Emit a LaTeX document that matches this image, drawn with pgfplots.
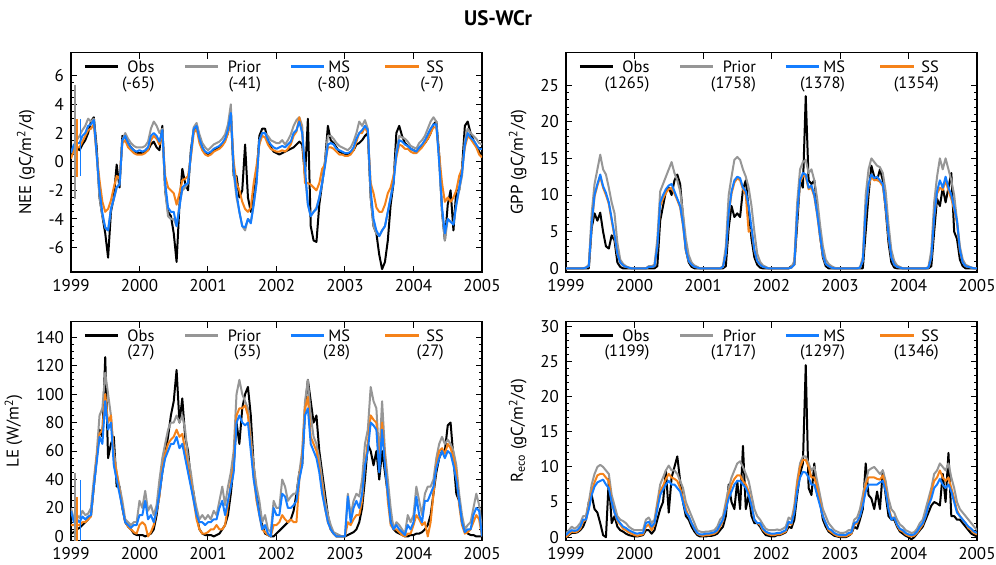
\documentclass[border=0pt]{standalone}
\usepackage{fontspec}
\setmainfont{PT Sans}
\usepackage{pgfplots}
\usepackage{pgfplotstable}
\pgfplotsset{compat=1.18}

\definecolor{obsc}{RGB}{0,0,0}
\definecolor{priorc}{RGB}{150,150,150}
\definecolor{msc}{RGB}{20,125,255}
\definecolor{ssc}{RGB}{245,130,25}

\newcommand{\fs}{\fontsize{8.5}{10}\selectfont}
\newcommand{\lfs}{\fontsize{8.2}{9.5}\selectfont}

% k = half-month index from Jan 1999
\pgfplotstableread{
k obs prior ms ss
0 0.5 0.7 0.6 0.2
1 0.8 1.0 1.2 0.8
2 1.0 1.5 1.3 1.0
3 0.8 1.8 1.3 1.0
4 1.2 2.2 1.8 1.4
5 1.5 2.5 2.0 1.8
6 2.0 3.0 2.5 2.2
7 2.8 2.8 2.6 2.3
8 3.1 3.0 2.9 2.6
9 1.0 0.5 0.5 0.5
10 -2.5 -2.5 -2.0 -1.3
11 -3.8 -3.8 -3.6 -2.8
12 -5.0 -4.6 -4.6 -3.5
13 -6.7 -4.8 -4.8 -3.3
14 -3.5 -3.3 -3.3 -2.7
15 -2.5 -2.6 -2.6 -1.8
16 -0.2 -1.8 -1.8 -1.0
17 -1.8 -1.5 -1.6 -1.2
18 1.8 1.5 1.5 1.3
19 1.7 2.0 1.8 1.5
20 1.3 1.6 1.3 1.0
21 1.0 1.3 1.0 0.8
22 0.8 1.1 0.8 0.6
23 0.6 1.0 0.7 0.5
24 0.6 1.0 0.8 0.5
25 0.6 1.0 0.7 0.5
26 0.7 1.1 0.8 0.6
27 0.8 1.4 1.0 0.8
28 1.2 2.3 1.8 1.5
29 1.4 2.8 2.0 1.8
30 1.0 2.5 1.8 1.6
31 0.8 2.0 1.4 1.2
32 2.5 2.3 2.2 2.0
33 -2.0 -2.0 -1.5 -1.0
34 -3.5 -3.8 -3.2 -1.8
35 -3.8 -4.0 -3.5 -2.0
36 -5.0 -4.0 -3.5 -2.2
37 -7.0 -4.5 -4.5 -3.0
38 -3.0 -3.0 -3.2 -2.2
39 -0.5 -2.0 -1.8 -1.3
40 -1.5 -1.8 -1.6 -1.2
41 -2.0 -1.5 -1.5 -1.0
42 0.8 0.5 0.5 0.3
43 2.2 2.4 2.3 2.0
44 2.6 2.7 2.5 2.3
45 1.7 1.9 1.6 1.3
46 1.0 1.3 1.0 0.8
47 0.6 1.0 0.7 0.5
48 0.5 0.8 0.6 0.4
49 0.6 1.0 0.7 0.5
50 0.8 1.2 0.9 0.7
51 0.9 1.3 1.0 0.8
52 1.0 1.4 1.1 0.9
53 1.2 1.6 1.3 1.1
54 1.5 1.9 1.6 1.4
55 2.0 2.6 2.2 2.0
56 3.5 4.0 3.4 3.2
57 -1.0 -0.8 -0.5 0.0
58 -1.0 -2.5 -2.2 -1.5
59 -2.5 -3.5 -3.5 -2.0
60 -2.0 -4.5 -4.5 -2.8
61 1.2 -4.8 -4.6 -3.3
62 -2.5 -4.0 -4.0 -3.5
63 -3.5 -4.2 -4.3 -3.2
64 -2.5 -3.0 -3.0 -1.5
65 -1.0 -1.5 -1.5 -0.3
66 1.8 1.5 1.5 1.2
67 2.3 2.0 2.0 1.8
68 2.3 2.0 2.0 1.7
69 1.5 1.8 1.5 1.2
70 1.0 1.5 1.2 0.9
71 0.7 1.4 1.0 0.8
72 0.6 1.3 0.9 0.7
73 0.5 1.3 1.0 0.7
74 0.6 1.5 1.1 0.8
75 0.7 1.2 1.0 0.7
76 0.8 1.5 1.2 0.9
77 0.9 1.9 1.4 1.2
78 1.0 2.5 2.0 1.8
79 1.2 2.9 2.2 2.1
80 1.4 3.1 2.8 3.1
81 1.2 2.5 2.0 2.0
82 -1.0 -1.0 -0.5 -1.5
83 3.0 -3.0 -3.0 -1.5
84 -4.5 -3.8 -3.8 -1.6
85 -5.5 -3.5 -3.5 -1.8
86 -5.6 -3.2 -3.3 -2.0
87 -3.0 -2.5 -2.5 -1.5
88 -1.5 -1.5 -1.5 -0.5
89 0.0 0.0 -0.3 -0.2
90 2.5 1.8 1.2 1.0
91 1.5 1.8 1.3 1.0
92 1.3 1.6 1.2 0.9
93 1.0 1.3 0.9 0.7
94 0.7 1.1 0.8 0.5
95 0.6 1.0 0.7 0.5
96 0.5 0.9 0.6 0.4
97 0.5 0.8 0.6 0.4
98 0.6 1.0 0.7 0.5
99 0.8 1.4 1.0 0.8
100 1.2 2.0 1.6 1.4
101 1.3 2.8 2.0 2.0
102 1.5 2.5 2.2 2.0
103 1.8 2.9 2.5 2.4
104 2.0 2.3 2.2 2.0
105 -2.5 -2.5 -2.0 -1.5
106 -4.5 -4.5 -4.0 -2.2
107 -5.0 -5.0 -4.8 -3.2
108 -6.5 -5.2 -5.2 -3.5
109 -7.5 -4.8 -4.8 -3.5
110 -7.0 -4.5 -4.5 -3.0
111 -5.5 -3.5 -3.5 -2.2
112 -3.0 -2.5 -2.5 -1.8
113 -1.5 -1.3 -1.5 -1.0
114 2.0 0.8 0.5 0.3
115 2.5 1.8 1.5 1.2
116 1.8 1.7 1.4 1.1
117 1.3 1.6 1.2 0.9
118 1.1 1.4 1.1 0.9
119 0.9 1.1 0.9 0.7
120 0.8 1.0 0.8 0.6
121 0.7 0.9 0.7 0.6
122 0.9 1.3 1.0 0.8
123 1.1 1.5 1.2 1.0
124 1.3 1.8 1.5 1.3
125 1.6 2.3 1.9 1.6
126 2.0 2.8 2.3 2.0
127 2.6 3.1 2.6 2.4
128 2.8 2.8 2.6 2.4
129 0.5 0.0 0.0 0.5
130 -3.5 -3.5 -3.2 -1.5
131 -5.5 -5.5 -5.0 -2.8
132 -3.0 -4.0 -4.0 -2.5
133 -2.0 -4.2 -4.2 -2.8
134 -4.8 -4.3 -4.4 -2.5
135 -2.0 -3.0 -3.0 -2.0
136 -2.0 -2.0 -1.8 -1.0
137 -0.5 -1.0 -0.8 -0.5
138 2.5 1.5 1.2 1.0
139 2.8 2.3 2.0 1.8
140 2.0 2.0 1.7 1.6
141 1.5 1.8 1.5 1.3
142 1.1 1.6 1.2 1.0
143 0.7 1.3 0.9 0.5
144 0.4 1.2 0.9 0.3
}\neetab

\pgfplotstableread{
k obs prior ms ss
0 0 0 0 0
1 0 0 0 0
2 0 0 0 0
3 0 0 0 0
4 0 0 0 0
5 0 0 0 0
6 0 0 0 0
7 0 0.1 0.1 0.1
8 0 0.5 0.3 0.3
9 5.5 7.5 6.0 6.0
10 7.5 11.5 10.0 9.8
11 6.5 13.5 11.5 11.3
12 7.6 15.5 12.8 12.5
13 5.0 13.5 11.2 11.0
14 3.0 12.8 10.3 10.0
15 2.7 11.0 9.0 8.8
16 4.5 9.0 6.8 6.5
17 3.8 7.5 4.5 4.3
18 0.8 3.5 2.0 1.9
19 0.2 1.2 0.8 0.8
20 0 0.6 0.4 0.4
21 0 0.3 0.2 0.2
22 0 0.1 0.1 0.1
23 0 0 0 0
24 0 0 0 0
25 0 0 0 0
26 0 0 0 0
27 0 0 0 0
28 0 0 0 0
29 0 0.3 0.2 0.2
30 0 0.3 0.2 0.2
31 0 0.5 0.3 0.3
32 0.3 4.0 3.0 3.0
33 6.5 10.5 9.0 8.5
34 8.5 11.5 10.0 9.5
35 10.5 12.5 10.8 10.3
36 11.0 13.5 11.3 10.8
37 10.0 14.5 11.5 11.0
38 12.0 13.0 10.5 10.2
39 12.8 12.0 9.5 9.3
40 11.5 10.5 8.5 8.3
41 7.0 7.5 6.0 5.8
42 2.5 4.0 2.5 2.4
43 0.8 1.8 1.0 1.0
44 0.2 0.8 0.5 0.5
45 0 0.4 0.2 0.2
46 0 0.2 0.1 0.1
47 0 0 0 0
48 0 0 0 0
49 0 0 0 0
50 0 0 0 0
51 0 0 0 0
52 0 0 0 0
53 0 0 0 0
54 0 0 0 0
55 0 0.3 0.2 0.2
56 0.3 3.0 2.0 2.0
57 5.5 10.0 7.5 7.3
58 8.5 12.5 10.5 10.2
59 7.0 14.8 12.0 11.7
60 7.5 15.2 12.5 12.3
61 7.0 14.8 12.3 12.0
62 10.8 13.5 11.0 10.8
63 12.0 12.5 10.5 10.0
64 8.0 11.0 8.5 5.0
65 4.0 8.5 5.5 5.3
66 1.5 5.0 2.5 2.4
67 0.5 2.0 1.0 1.0
68 0.1 0.9 0.5 0.5
69 0 0.4 0.2 0.2
70 0 0.2 0.1 0.1
71 0 0 0 0
72 0 0 0 0
73 0 0 0 0
74 0 0 0 0
75 0 0 0 0
76 0 0 0 0
77 0 0 0 0
78 0 0 0 0
79 0.3 0.2 0.1 0.1
80 0.5 1.0 0.5 0.5
81 6.0 9.0 7.5 7.3
82 12.0 13.5 12.0 11.7
83 11.0 14.5 13.0 12.6
84 23.5 14.8 12.8 12.5
85 12.0 13.0 11.0 10.8
86 11.5 13.5 11.3 11.0
87 12.0 12.0 10.0 9.8
88 8.5 9.5 7.5 7.3
89 4.5 6.0 4.5 4.3
90 1.5 3.0 1.8 1.7
91 0.3 1.2 0.6 0.6
92 0 0.6 0.3 0.3
93 0 0.3 0.1 0.1
94 0 0.1 0 0
95 0 0 0 0
96 0 0 0 0
97 0 0 0 0
98 0 0 0 0
99 0 0 0 0
100 0 0 0 0
101 0 0 0 0
102 0 0 0 0
103 0 0.1 0.1 0.1
104 0 1.5 1.0 1.0
105 5.0 10.0 8.0 7.8
106 10.0 13.5 11.5 11.2
107 14.0 15.0 12.8 12.5
108 12.5 14.5 12.3 12.0
109 12.0 14.0 12.5 12.1
110 13.5 13.8 12.0 11.8
111 12.0 13.0 11.5 11.2
112 8.0 10.5 8.5 8.3
113 3.5 6.0 4.5 4.3
114 0.8 2.5 1.5 1.5
115 0.1 1.0 0.5 0.5
116 0 0.4 0.2 0.2
117 0 0.2 0.1 0.1
118 0 0 0 0
119 0 0 0 0
120 0 0 0 0
121 0 0 0 0
122 0 0 0 0
123 0 0 0 0
124 0 0 0 0
125 0 0 0 0
126 0 0 0 0
127 0 0.2 0.1 0.1
128 0.3 2.5 1.5 1.5
129 5.0 9.0 7.0 7.0
130 9.5 12.5 10.5 10.2
131 8.5 15.0 12.0 11.0
132 11.0 13.5 11.0 10.7
133 9.0 15.0 12.5 12.0
134 11.0 13.5 11.0 10.6
135 13.0 12.0 10.0 9.5
136 5.0 10.0 8.3 8.0
137 4.0 6.5 6.5 6.2
138 1.2 3.0 2.5 2.4
139 0.3 1.2 0.8 0.8
140 0 0.5 0.3 0.3
141 0 0.3 0.2 0.2
142 0 0.1 0.1 0.1
143 0 0 0 0
144 0 0 0 0
}\gpptab

\pgfplotstableread{
k obs prior ms ss
0 2 20 18 8
1 3 12 10 8
2 5 15 12 8
3 6 13 10 8
4 8 18 14 10
5 10 15 12 10
6 12 16 14 12
7 15 20 15 14
8 35 40 35 35
9 55 58 52 55
10 75 85 70 72
11 70 90 65 75
12 126 115 95 100
13 55 100 75 80
14 65 85 80 85
15 70 60 50 55
16 35 45 40 45
17 35 35 30 32
18 20 25 20 20
19 10 12 10 10
20 7 10 8 7
21 5 8 6 5
22 2 10 8 3
23 1 10 8 2
24 1 25 15 8
25 1 20 15 10
26 0 32 25 8
27 1 18 12 0
28 2 22 15 3
29 5 15 10 8
30 15 22 18 18
31 30 40 30 28
32 45 55 45 48
33 58 65 55 58
34 70 75 60 65
35 85 80 65 68
36 95 80 65 70
37 117 85 70 75
38 80 80 62 70
39 97 85 65 72
40 70 75 55 60
41 60 55 45 48
42 40 45 35 38
43 30 30 25 25
44 15 20 15 12
45 5 12 10 5
46 2 15 10 2
47 1 12 8 2
48 1 15 10 3
49 1 12 10 5
50 0 18 12 5
51 1 15 12 8
52 2 25 20 5
53 5 35 25 5
54 8 22 15 8
55 15 35 25 22
56 30 45 35 38
57 50 60 45 50
58 80 100 80 85
59 65 110 85 90
60 90 100 80 90
61 100 95 78 92
62 105 90 80 85
63 85 70 60 65
64 50 50 40 42
65 30 35 28 25
66 20 25 15 15
67 8 10 5 5
68 2 15 8 3
69 1 5 2 1
70 0 3 0 0
71 0 25 20 8
72 2 20 15 8
73 4 20 15 10
74 6 40 30 15
75 8 35 28 12
76 10 25 20 10
77 12 28 20 12
78 18 30 22 10
79 30 30 25 10
80 45 45 40 40
81 50 60 50 55
82 90 95 85 90
83 110 110 90 98
84 95 85 65 70
85 80 70 60 65
86 85 65 55 60
87 60 55 45 48
88 45 40 30 35
89 30 25 20 20
90 15 15 10 10
91 5 8 5 5
92 2 3 2 2
93 0 2 0 0
94 0 1 0 0
95 0 0 0 0
96 0 0 0 0
97 1 30 28 10
98 2 15 10 8
99 3 25 20 12
100 5 30 25 15
101 10 28 20 15
102 20 40 30 25
103 40 65 50 50
104 65 75 60 65
105 60 105 80 85
106 50 95 78 82
107 60 90 75 80
108 40 55 45 50
109 60 95 75 80
110 45 60 50 55
111 30 40 30 25
112 15 20 10 8
113 5 5 5 5
114 3 10 8 5
115 2 8 5 3
116 1 5 3 1
117 0 2 1 0
118 0 15 8 2
119 1 10 5 2
120 1 15 10 8
121 2 35 28 15
122 2 25 15 12
123 3 15 10 8
124 5 30 25 10
125 8 35 25 0
126 15 35 30 10
127 30 40 35 30
128 45 55 48 50
129 55 65 55 60
130 60 70 60 62
131 60 65 55 58
132 78 68 60 65
133 80 65 58 62
134 55 60 50 55
135 30 50 40 45
136 25 30 25 22
137 10 15 10 8
138 5 5 3 2
139 2 8 5 3
140 1 10 5 5
141 1 20 15 10
142 0 30 20 15
143 0 22 18 12
144 0 5 0 0
}\letab

\pgfplotstableread{
k obs prior ms ss
0 0.0 0.5 0.3 0.0
1 0.3 1.0 0.7 0.4
2 0.6 1.5 1.0 0.8
3 0.6 1.2 0.9 0.7
4 0.7 1.5 1.0 0.8
5 1.0 2.0 1.5 1.2
6 1.5 3.0 2.5 2.2
7 2.5 3.0 2.5 2.5
8 5.0 5.0 4.0 4.2
9 6.0 7.5 6.0 6.5
10 4.0 9.0 7.2 7.8
11 3.5 10.0 7.8 8.8
12 2.0 10.3 8.0 9.0
13 0.3 10.0 8.2 9.0
14 0.0 9.5 7.5 8.5
15 8.3 9.0 7.0 8.0
16 2.0 6.0 5.0 5.0
17 3.0 4.5 3.5 3.5
18 1.5 3.0 2.5 2.3
19 1.0 2.5 2.0 1.8
20 0.8 2.3 1.5 1.2
21 0.5 2.0 1.3 1.0
22 0.3 1.5 1.0 0.7
23 0.2 1.2 0.8 0.5
24 0.1 1.0 0.6 0.3
25 0.1 1.0 0.5 0.2
26 0.2 1.0 0.6 0.3
27 0.3 1.0 0.6 0.4
28 1.0 2.5 2.0 1.5
29 1.0 2.8 2.2 1.8
30 0.5 2.0 1.5 1.0
31 1.0 2.5 2.0 1.8
32 2.5 5.0 4.0 4.5
33 4.0 7.5 6.0 6.5
34 5.0 8.5 6.8 7.3
35 9.5 9.5 7.5 8.3
36 3.5 10.2 8.0 9.0
37 8.5 9.5 7.5 8.5
38 10.0 9.5 7.5 8.3
39 11.5 9.0 7.0 8.0
40 8.0 8.0 6.5 7.0
41 5.0 7.0 5.0 5.5
42 3.0 5.0 3.5 4.0
43 2.5 4.0 3.0 3.0
44 1.5 3.0 2.0 2.0
45 0.8 2.0 1.2 1.2
46 0.3 1.0 0.6 0.5
47 0.1 0.8 0.4 0.3
48 0.1 0.7 0.4 0.2
49 0.1 0.8 0.5 0.3
50 0.2 0.8 0.5 0.3
51 0.2 0.9 0.6 0.4
52 0.3 1.0 0.7 0.5
53 0.5 1.5 1.0 0.8
54 1.0 2.5 1.8 1.5
55 1.5 3.0 2.5 2.3
56 3.0 5.0 4.0 4.3
57 7.5 7.0 5.5 6.0
58 5.0 8.5 6.5 7.5
59 4.0 9.5 7.5 8.3
60 8.0 10.5 8.0 8.8
61 4.0 10.8 8.0 8.8
62 13.0 10.0 7.5 8.0
63 4.0 9.0 7.0 7.5
64 6.0 8.0 6.0 6.5
65 3.0 6.0 4.5 4.5
66 2.0 4.0 2.5 2.5
67 2.0 3.0 2.0 2.0
68 1.5 2.5 2.0 1.8
69 0.8 1.8 1.2 1.0
70 0.3 1.2 0.8 0.6
71 0.2 1.0 0.6 0.4
72 0.1 1.0 0.5 0.3
73 0.1 1.0 0.5 0.3
74 0.3 1.1 0.6 0.4
75 0.3 1.0 0.6 0.4
76 0.5 1.2 0.8 0.6
77 0.7 1.5 1.0 0.8
78 1.5 2.8 2.2 2.0
79 1.3 2.5 2.0 1.8
80 2.5 4.5 3.5 4.0
81 6.0 8.0 6.5 7.5
82 9.0 10.5 8.5 10.0
83 10.5 11.5 9.3 11.0
84 24.5 11.5 9.2 11.0
85 7.0 10.5 8.5 10.0
86 6.0 9.5 7.5 8.5
87 10.5 10.0 7.5 8.5
88 6.0 8.0 6.0 7.0
89 5.0 6.0 4.5 5.0
90 2.5 4.0 3.0 3.0
91 1.5 3.0 2.0 2.0
92 0.8 2.0 1.2 1.0
93 0.5 1.5 1.0 0.7
94 0.2 1.0 0.6 0.4
95 0.1 0.8 0.4 0.2
96 0.0 0.6 0.3 0.1
97 0.0 0.6 0.3 0.1
98 0.0 0.7 0.3 0.1
99 0.2 1.0 0.6 0.3
100 0.5 1.0 0.7 0.5
101 1.5 2.5 2.0 1.8
102 1.2 2.8 2.2 2.0
103 2.5 4.0 3.0 3.0
104 4.0 6.0 4.5 5.0
105 10.5 8.0 6.5 7.5
106 6.0 9.5 7.5 8.5
107 5.5 9.8 7.5 8.5
108 4.0 10.0 7.5 8.5
109 6.5 9.5 7.5 8.3
110 4.0 9.0 7.8 8.2
111 9.5 9.5 8.0 8.8
112 6.0 8.0 6.5 7.0
113 3.0 5.5 4.0 4.3
114 2.5 4.0 2.5 2.8
115 2.5 3.5 2.8 2.8
116 1.5 2.5 1.8 1.7
117 0.8 1.8 1.2 1.0
118 0.5 1.5 1.0 0.8
119 0.2 1.0 0.6 0.4
120 0.0 0.8 0.4 0.2
121 -0.3 0.6 0.3 0.1
122 0.0 0.7 0.4 0.2
123 0.5 1.2 0.8 0.6
124 1.0 2.0 1.5 1.2
125 1.5 2.5 2.0 1.8
126 2.5 4.0 3.0 3.0
127 3.5 5.5 4.5 4.5
128 4.5 7.0 5.5 6.5
129 5.0 9.0 7.0 8.0
130 4.8 9.5 7.5 8.5
131 4.5 10.5 8.3 9.5
132 9.0 10.0 7.5 8.5
133 5.0 9.5 7.0 8.0
134 12.0 10.5 7.5 8.5
135 3.0 8.5 6.5 7.0
136 3.0 7.0 5.0 5.5
137 2.5 5.0 3.5 3.8
138 2.5 4.0 3.0 3.0
139 2.0 3.5 2.5 2.5
140 1.5 3.0 2.0 2.0
141 1.0 2.5 1.5 1.3
142 0.5 2.0 1.2 1.0
143 0.3 1.5 0.8 0.6
144 0.1 1.0 0.6 0.4
}\recotab

\pgfplotsset{
  panel/.style={
    scale only axis, width=205.5pt, height=109.6pt,
    xmin=1999, xmax=2005, xtick={1999,2000,...,2005},
    minor x tick num=11,
    xticklabel style={/pgf/number format/1000 sep={}},
    tick label style={font=\fs},
    ylabel style={font=\fs},
    /pgf/number format/assume math mode=true,
    major tick length=3pt, minor tick length=1.6pt,
    axis line style={line width=0.6pt},
    every tick/.style={black, line width=0.5pt},
    every axis plot/.append style={line width=1pt, line join=round, mark=none},
  },
}

\newcommand{\series}[1]{%
  \addplot[obsc] table[x expr=1999+\thisrow{k}/24, y=obs] {#1};
  \addplot[priorc] table[x expr=1999+\thisrow{k}/24, y=prior] {#1};
  \addplot[ssc] table[x expr=1999+\thisrow{k}/24, y=ss] {#1};
  \addplot[msc] table[x expr=1999+\thisrow{k}/24, y=ms] {#1};
}
\newcommand{\legitem}[6]{%
  \draw[#1, line width=1.6pt] (axis description cs:#2,0.937) -- (axis description cs:#3,0.937);
  \node[anchor=east, inner sep=0pt, font=\lfs] at (axis description cs:#4,0.937) {#5};
  \node[anchor=east, inner sep=0pt, font=\lfs] at (axis description cs:#4,0.857) {#6};
}
\newcommand{\legs}[4]{%
  \legitem{obsc}{0.034}{0.114}{0.204}{Obs}{#1}
  \legitem{priorc}{0.278}{0.358}{0.463}{Prior}{#2}
  \legitem{msc}{0.535}{0.615}{0.680}{MS}{#3}
  \legitem{ssc}{0.765}{0.847}{0.908}{SS}{#4}
}
\newcommand{\ebar}[4]{%
  \addplot[draw=none, mark=none, forget plot, error bars/.cd, y dir=both, y explicit,
    error bar style={draw=#1, line width=0.8pt},
    error mark options={draw=#1, line width=0.8pt, mark size=2pt}]
    coordinates {(#2,#3) +- (0,#4)};
}

\begin{document}
\begin{tikzpicture}
\path[use as bounding box] (0,0) rectangle (498pt,282pt);
\node[font=\bfseries\fontsize{10.5}{12}\selectfont] at (249pt,273pt) {US-WCr};

\begin{axis}[panel, at={(35.5pt,146pt)}, anchor=south west,
  ymin=-7.7, ymax=7.6, ytick={-6,-4,...,6}, minor y tick num=3,
  ylabel={NEE (gC/m\textsuperscript{2}/d)}]
\series{\neetab}
\ebar{priorc}{1999.06}{1.4}{3.7}
\ebar{ssc}{1999.09}{0.95}{1.75}
\ebar{msc}{1999.14}{1.0}{1.7}
\legs{(-65)}{(-41)}{(-80)}{(-7)}
\end{axis}

\begin{axis}[panel, at={(283pt,146pt)}, anchor=south west,
  ymin=-0.5, ymax=29.4, ytick={0,5,...,25}, minor y tick num=4,
  ylabel={GPP (gC/m\textsuperscript{2}/d)}]
\series{\gpptab}
\legs{(1265)}{(1758)}{(1378)}{(1354)}
\end{axis}

\begin{axis}[panel, at={(35.5pt,11.65pt)}, anchor=south west,
  ymin=-3, ymax=151, ytick={0,20,...,140}, minor y tick num=3,
  ylabel={LE (W/m\textsuperscript{2})}]
\series{\letab}
\ebar{priorc}{1999.06}{20}{22}
\ebar{ssc}{1999.09}{12}{13}
\ebar{msc}{1999.14}{18}{19}
\legs{(27)}{(35)}{(28)}{(27)}
\end{axis}

\begin{axis}[panel, at={(283pt,11.65pt)}, anchor=south west,
  ymin=-0.5, ymax=30.7, ytick={0,5,...,30}, minor y tick num=4,
  ylabel={R\textsubscript{eco} (gC/m\textsuperscript{2}/d)}]
\series{\recotab}
\legs{(1199)}{(1717)}{(1297)}{(1346)}
\end{axis}
\end{tikzpicture}
\end{document}
